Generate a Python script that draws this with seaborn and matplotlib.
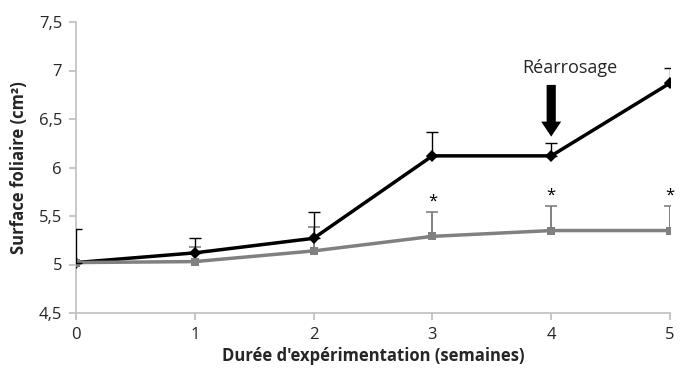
import matplotlib
matplotlib.use("Agg")
import matplotlib.pyplot as plt
import seaborn as sns
import pandas as pd
import numpy as np

weeks = [0, 1, 2, 3, 4, 5]
rearrose = [5.02, 5.12, 5.27, 6.12, 6.12, 6.87]
rearrose_err = [0.35, 0.15, 0.27, 0.25, 0.13, 0.16]
stress = [5.02, 5.03, 5.14, 5.29, 5.35, 5.35]
stress_err = [0.0, 0.15, 0.25, 0.25, 0.25, 0.25]
star_weeks = [3, 4, 5]

sns.set_theme(style="white")
plt.rcParams['font.family'] = ['Open Sans', 'DejaVu Sans']

df = pd.DataFrame({
    "week": weeks * 2,
    "surface": rearrose + stress,
    "serie": ["A"] * 6 + ["B"] * 6,
})

fig = plt.figure(figsize=(6.91, 3.71), dpi=100)
ax = fig.add_axes([76/691, 1-313/371, (670-76)/691, (313-22)/371])

palette = {"A": "#000000", "B": "#808080"}
sns.lineplot(data=df, x="week", y="surface", hue="serie", palette=palette,
             style="serie", markers={"A": "D", "B": "s"}, dashes=False,
             markersize=6, linewidth=2.5, legend=False, ax=ax, zorder=3,
             markeredgewidth=0)

ax.errorbar(weeks, stress, yerr=[np.zeros(6), stress_err], fmt="none",
            ecolor="#808080", elinewidth=1.4, capsize=4, capthick=1.2, zorder=2)
ax.errorbar(weeks, rearrose, yerr=[np.zeros(6), rearrose_err], fmt="none",
            ecolor="#000000", elinewidth=1.0, capsize=4, capthick=1.0, zorder=4)

for w in star_weeks:
    i = weeks.index(w)
    ax.text(w, stress[i] + stress_err[i] + 0.03, "*", ha="center", va="bottom",
            fontsize=12, color="#000000")

ax.annotate("", xy=(4, 6.29), xytext=(4, 6.88),
            arrowprops=dict(arrowstyle="simple,head_width=1.2,head_length=0.9,tail_width=0.55",
                            color="black", lw=0))
ax.text(4.16, 6.93, "Réarrosage", ha="center", va="bottom", fontsize=13)

ax.set_xlim(0, 5)
ax.set_ylim(4.5, 7.5)
ax.set_xticks(weeks)
yt = [4.5, 5, 5.5, 6, 6.5, 7, 7.5]
ax.set_yticks(yt)
ax.set_yticklabels([str(v).replace(".", ",").replace(",0", "") for v in yt])
ax.tick_params(axis="both", labelsize=12, length=5, color="#bfbfbf", direction="out",
               bottom=True, left=True, pad=5)
ax.set_xlabel("Durée d'expérimentation (semaines)", fontsize=12, fontweight="bold", labelpad=3)
ax.set_ylabel("Surface foliaire (cm²)", fontsize=12, fontweight="bold", labelpad=8)
for s in ["top", "right"]:
    ax.spines[s].set_visible(False)
for s in ["left", "bottom"]:
    ax.spines[s].set_color("#bfbfbf")
    ax.spines[s].set_linewidth(1.2)

fig.savefig("out.png", dpi=100)
